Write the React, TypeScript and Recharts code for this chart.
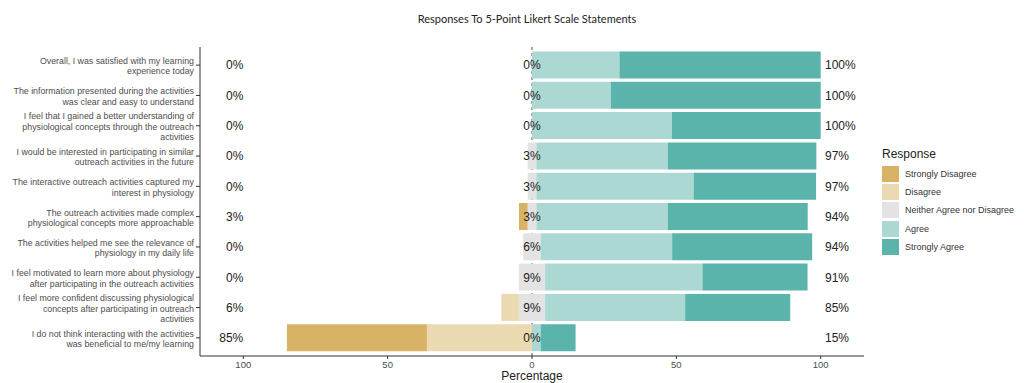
import { Bar, BarChart, ReferenceDot, ReferenceLine, XAxis, YAxis } from 'recharts';

// statements, top to bottom, with the line breaks used in the axis labels
const statements = [
  ['Overall, I was satisfied with my learning', 'experience today'],
  ['The information presented during the activities', 'was clear and easy to understand'],
  ['I feel that I gained a better understanding of', 'physiological concepts through the outreach', 'activities'],
  ['I would be interested in participating in similar', 'outreach activities in the future'],
  ['The interactive outreach activities captured my', 'interest in physiology'],
  ['The outreach activities made complex', 'physiological concepts more approachable'],
  ['The activities helped me see the relevance of', 'physiology in my daily life'],
  ['I feel motivated to learn more about physiology', 'after participating in the outreach activities'],
  ['I feel more confident discussing physiological', 'concepts after participating in outreach', 'activities'],
  ['I do not think interacting with the activities', 'was beneficial to me/my learning'],
];

// percentages of respondents
const stronglyDisagree = [0, 0, 0, 0, 0, 3.0, 0, 0, 0, 48.5];
const disagree = [0, 0, 0, 0, 0, 0, 0, 0, 6.1, 36.4];
const neutral = [0, 0, 0, 3.0, 3.0, 3.0, 6.1, 9.1, 9.1, 0];
const agree = [30.3, 27.3, 48.5, 45.5, 54.5, 45.5, 45.5, 54.5, 48.5, 3.0];
const stronglyAgree = [69.7, 72.7, 51.5, 51.5, 42.4, 48.5, 48.5, 36.4, 36.4, 12.1];

const xTicks = [-100, -50, 0, 50, 100];
const labelPositions = { left: -100, middle: 0, right: 101.5 };

const legendItems = [
  { name: 'Strongly Disagree', color: '#d8b365' },
  { name: 'Disagree', color: '#ebd9b1' },
  { name: 'Neither Agree nor Disagree', color: '#e3e3e3' },
  { name: 'Agree', color: '#acd8d4' },
  { name: 'Strongly Agree', color: '#5ab4ac' },
];

const FONT = '"Liberation Sans", Arial, sans-serif';

const data = statements.map((lines, i) => ({
  statement: lines.join(' '),
  nLeft: -neutral[i] / 2,
  nRight: neutral[i] / 2,
  dNeg: -disagree[i],
  agree: agree[i],
  sdNeg: -stronglyDisagree[i],
  sa: stronglyAgree[i],
  leftPct: Math.round(stronglyDisagree[i] + disagree[i]),
  midPct: Math.round(neutral[i]),
  rightPct: Math.round(agree[i] + stronglyAgree[i]),
}));

const linesByStatement: Record<string, string[]> = {};
statements.forEach((lines) => {
  linesByStatement[lines.join(' ')] = lines;
});

function StatementTick({ x, y, payload }: any) {
  const lines = linesByStatement[payload.value] ?? [payload.value];
  const lineHeight = 10.4;
  const start = -((lines.length - 1) * lineHeight) / 2 + 1;
  return (
    <text x={x} y={y} textAnchor="end" fill="#4d4d4d" fontSize={8.8} fontFamily={FONT}>
      {lines.map((line, i) => (
        <tspan key={i} x={x} y={y + start + i * lineHeight} dy="0.35em">
          {line}
        </tspan>
      ))}
    </text>
  );
}

function pctLabel(text: string, anchor: 'start' | 'middle' | 'end') {
  return (props: any) => (
    <text
      x={props.cx}
      y={props.cy}
      dy="0.36em"
      textAnchor={anchor}
      fill="#222"
      fontSize={12}
      fontFamily={FONT}
    >
      {text}
    </text>
  );
}

export default function App() {
  return (
    <div style={{ position: 'absolute', left: 0, top: 0, width: 1024, height: 383, background: '#fff' }}>
      <div
        style={{
          position: 'absolute',
          left: 0,
          top: 12,
          width: 1054,
          textAlign: 'center',
          fontFamily: 'Lato, "Open Sans", sans-serif',
          fontSize: 11,
          color: '#222',
        }}
      >
        Responses To 5-Point Likert Scale Statements
      </div>

      <BarChart
        width={1024}
        height={383}
        data={data}
        layout="vertical"
        stackOffset="sign"
        barCategoryGap="5%"
        margin={{ top: 47, right: 160, bottom: 0, left: 0 }}
        style={{ position: 'absolute', left: 0, top: 0 }}
      >
        <XAxis
          type="number"
          domain={[-115, 115]}
          ticks={xTicks}
          tickFormatter={(v: number) => String(Math.abs(v))}
          tick={{ fill: '#4d4d4d', fontSize: 9.5, fontFamily: FONT }}
          tickSize={3}
          axisLine={{ stroke: '#333' }}
          tickLine={{ stroke: '#333' }}
          height={27}
          allowDataOverflow
          label={{
            value: 'Percentage',
            position: 'insideBottom',
            offset: 3,
            fill: '#222',
            fontSize: 12,
            fontFamily: FONT,
          }}
        />
        <YAxis
          type="category"
          dataKey="statement"
          width={200}
          tick={<StatementTick />}
          tickSize={4}
          axisLine={{ stroke: '#333' }}
          tickLine={{ stroke: '#333' }}
          interval={0}
          padding={{ top: 3, bottom: 3 }}
        />
        <ReferenceLine x={0} stroke="#555" strokeDasharray="3 3" zIndex={100} />
        <Bar dataKey="nLeft" stackId="a" fill="#e3e3e3" isAnimationActive={false} />
        <Bar dataKey="nRight" stackId="a" fill="#e3e3e3" isAnimationActive={false} />
        <Bar dataKey="dNeg" stackId="a" fill="#ebd9b1" isAnimationActive={false} />
        <Bar dataKey="agree" stackId="a" fill="#acd8d4" isAnimationActive={false} />
        <Bar dataKey="sdNeg" stackId="a" fill="#d8b365" isAnimationActive={false} />
        <Bar dataKey="sa" stackId="a" fill="#5ab4ac" isAnimationActive={false} />
        {data.map((row) => [
          <ReferenceDot
            key={`l-${row.statement}`}
            x={labelPositions.left}
            y={row.statement}
            r={0}
            shape={pctLabel(`${row.leftPct}%`, 'end')}
          />,
          <ReferenceDot
            key={`m-${row.statement}`}
            x={labelPositions.middle}
            y={row.statement}
            r={0}
            shape={pctLabel(`${row.midPct}%`, 'middle')}
          />,
          <ReferenceDot
            key={`r-${row.statement}`}
            x={labelPositions.right}
            y={row.statement}
            r={0}
            shape={pctLabel(`${row.rightPct}%`, 'start')}
          />,
        ])}
      </BarChart>

      <div style={{ position: 'absolute', left: 882, top: 147, fontFamily: FONT }}>
        <div style={{ fontSize: 12, color: '#222', height: 18 }}>Response</div>
        {legendItems.map((item) => (
          <div key={item.name} style={{ display: 'flex', alignItems: 'center', height: 18.2 }}>
            <span style={{ width: 17, height: 16, background: item.color, display: 'inline-block' }} />
            <span style={{ marginLeft: 6, fontSize: 9, color: '#333' }}>{item.name}</span>
          </div>
        ))}
      </div>
    </div>
  );
}
